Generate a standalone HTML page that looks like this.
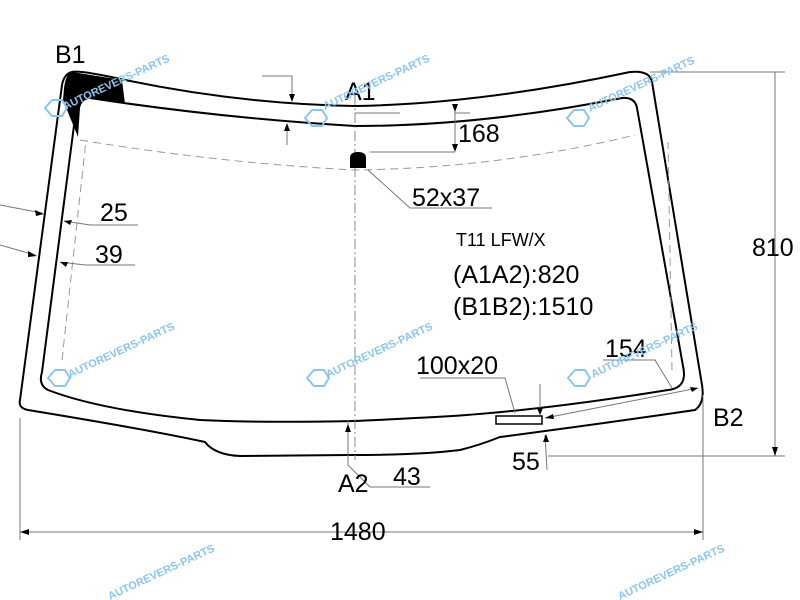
<!DOCTYPE html>
<html><head><style>body{margin:0;background:#fff}svg{display:block}text{font-family:"Liberation Sans",sans-serif}</style></head><body>
<svg width="800" height="600" viewBox="0 0 800 600" xmlns="http://www.w3.org/2000/svg">
<g fill="none" stroke="#000" stroke-width="2">
<path d="M72,72 Q80,70 125,80 Q240,104 355,106 Q480,104 630,72 Q650,70 652,82 L702,385 Q705,403 695,410 Q600,424 500,437 Q480,445 460,450 Q420,455 350,455 L240,456 Q215,455 205,442 Q150,430 28,410 Q18,408 20,400 L62,85 Q64,74 72,72 Z"/>
<path d="M90,98 Q220,118 355,126 Q480,126 622,98 Q635,97 637,108 L683,366 Q688,388 668,390 Q520,414 415,418 Q380,420 355,421 Q260,423 200,420 Q100,410 48,390 Q38,385 42,372 L76,110 Q78,96 90,98 Z"/>
</g>
<path d="M72,72 Q66,73 64,88 L63,100 L78,137 L80,108 Q82,97 96,99 L125,104 L122,80 Z" fill="#000"/>
<path d="M80,140 Q220,163 355,170 Q500,168 635,135" fill="none" stroke="#999" stroke-dasharray="8,5"/>
<path d="M62,360 L86,140" fill="none" stroke="#999" stroke-dasharray="8,5"/>
<path d="M672,370 L668,142" fill="none" stroke="#999" stroke-dasharray="8,5"/>
<line x1="355" y1="95" x2="355" y2="460" stroke="#888" stroke-dasharray="10,3,2,3"/>
<path d="M350,168 L350,158 Q350,152 358,152 Q366,152 366,158 L366,168 Z" fill="#000"/>
<rect x="496" y="416" width="46" height="8" fill="#fff" stroke="#000" stroke-width="1.5"/>
<g stroke="#777" stroke-width="1" fill="none">
<line x1="355" y1="113" x2="400" y2="113"/><line x1="455" y1="105" x2="455" y2="150"/><line x1="455" y1="113" x2="470" y2="113"/>
<path d="M262,76 L292,76 L292,100"/><line x1="287" y1="125" x2="287" y2="145"/>
<path d="M368,170 L410,208 L492,208"/><line x1="370" y1="152" x2="455" y2="152"/>
<path d="M64,221 L90,225 L138,225"/><path d="M60,262 L85,265 L135,265"/>
<line x1="0" y1="205" x2="42" y2="213"/><line x1="0" y1="245" x2="35" y2="255"/>
<path d="M420,378 L505,378 L515,413"/><line x1="540" y1="384" x2="540" y2="415"/>
<line x1="545" y1="418" x2="698" y2="388"/><path d="M603,360 L655,360 L672,388"/>
<line x1="348" y1="420" x2="348" y2="465"/><line x1="348" y1="465" x2="370" y2="487"/><line x1="370" y1="487" x2="430" y2="487"/>
<line x1="545" y1="435" x2="547" y2="470"/>
<line x1="548" y1="456" x2="785" y2="456"/><line x1="650" y1="72" x2="785" y2="72"/><line x1="775" y1="72" x2="775" y2="456"/>
<line x1="20" y1="418" x2="20" y2="540"/><line x1="703" y1="395" x2="703" y2="540"/><line x1="20" y1="532" x2="703" y2="532"/>
</g>
<g fill="#000">
<path d="M292,102 l-3,-8 h6z"/><path d="M287,123 l-3,8 h6z"/><path d="M455,112 l-3,-8 h6z"/><path d="M455,152 l-3,-8 h6z"/>
<path d="M44,214 l-9,-4 l1,6z"/><path d="M37,256 l-9,-5 l0,6z"/><path d="M64,221 l8,-1 l-2,5z"/><path d="M60,262 l8,0 l-2,5z"/>
<path d="M545,418 l8,-4 l1,5z"/><path d="M698,388 l-8,-1 l2,5z"/><path d="M540,415 l-3,-7 h6z"/><path d="M546,434 l-3,8 h6z"/>
<path d="M348,424 l-3,8 h6z"/><path d="M775,456 l-3,-9 h6z"/><path d="M20,532 l9,-3 v6z"/><path d="M703,532 l-9,-3 v6z"/>
</g>
<g font-size="25" fill="#000">
<text x="55" y="63">B1</text><text x="345" y="100">A1</text><text x="458" y="142">168</text><text x="412" y="206">52x37</text>
<text x="100" y="221">25</text><text x="95" y="263">39</text><text x="752" y="256">810</text>
<text x="453" y="283">(A1A2):820</text><text x="453" y="315">(B1B2):1510</text>
<text x="416" y="374">100x20</text><text x="605" y="357">154</text><text x="713" y="426">B2</text>
<text x="338" y="492">A2</text><text x="393" y="485">43</text><text x="512" y="470">55</text><text x="330" y="540">1480</text>
<text x="456" y="246" font-size="18">T11 LFW/X</text>
</g>
<g fill="#8cc4ea" font-size="11" font-weight="bold">
<text x="65" y="110" transform="rotate(-25 65 110)">AUTOREVERS-PARTS</text>
<text x="325" y="110" transform="rotate(-25 325 110)">AUTOREVERS-PARTS</text>
<text x="590" y="112" transform="rotate(-25 590 112)">AUTOREVERS-PARTS</text>
<text x="328" y="378" transform="rotate(-25 328 378)">AUTOREVERS-PARTS</text>
<text x="593" y="378" transform="rotate(-25 593 378)">AUTOREVERS-PARTS</text>
<text x="70" y="378" transform="rotate(-25 70 378)">AUTOREVERS-PARTS</text>
<text x="110" y="600" transform="rotate(-25 110 600)">AUTOREVERS-PARTS</text>
<text x="620" y="600" transform="rotate(-25 620 600)">AUTOREVERS-PARTS</text>
</g>
<g fill="none" stroke="#8cc4ea" stroke-width="2">
<path d="M45,108 l7,-8 h10 l5,8 l-5,8 h-10z"/><path d="M305,118 l7,-8 h10 l5,8 l-5,8 h-10z"/>
<path d="M567,118 l7,-8 h10 l5,8 l-5,8 h-10z"/><path d="M307,378 l7,-8 h10 l5,8 l-5,8 h-10z"/>
<path d="M568,378 l7,-8 h10 l5,8 l-5,8 h-10z"/><path d="M48,378 l7,-8 h10 l5,8 l-5,8 h-10z"/>
</g>
</svg>
</body></html>
